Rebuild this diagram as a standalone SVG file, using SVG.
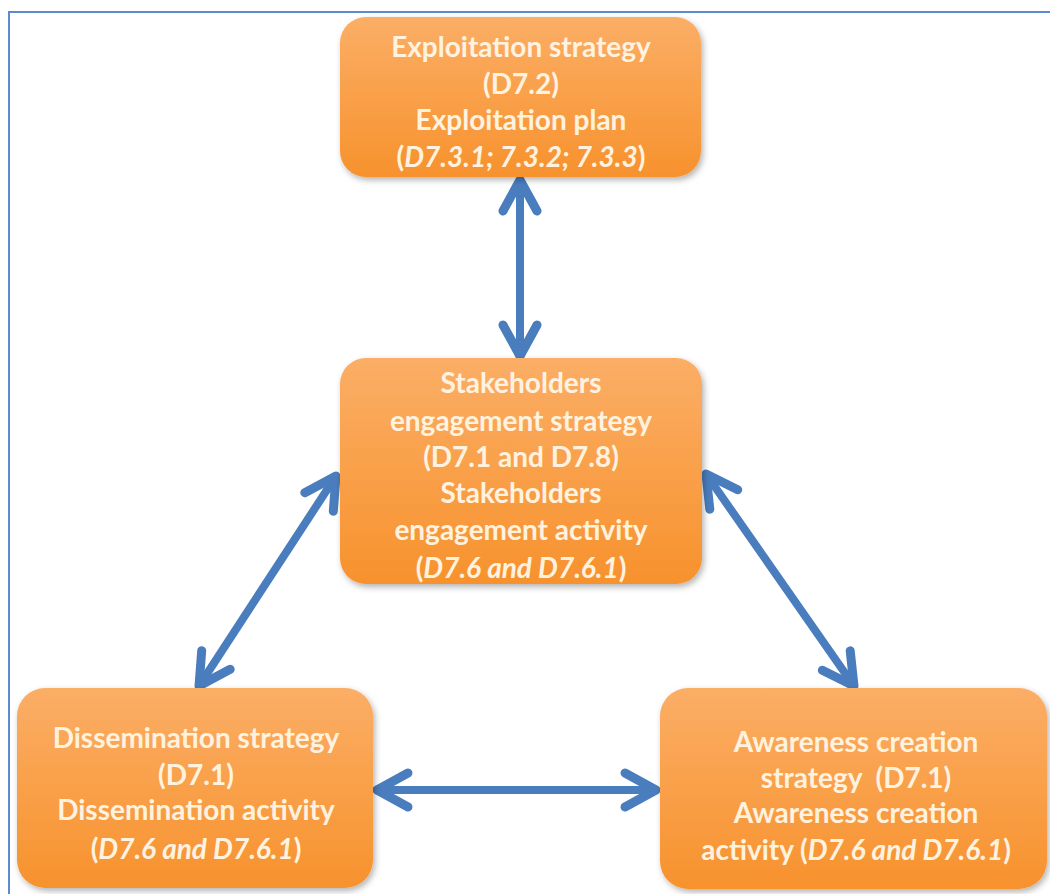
<svg xmlns="http://www.w3.org/2000/svg" width="1050" height="894" viewBox="0 0 1050 894">
<defs>
<linearGradient id="og" x1="0" y1="0" x2="0" y2="1">
<stop offset="0" stop-color="#fbae66"/>
<stop offset="1" stop-color="#f7922d"/>
</linearGradient>
<filter id="sh" x="-10%" y="-10%" width="125%" height="130%">
<feDropShadow dx="2" dy="3" stdDeviation="3" flood-color="#000" flood-opacity="0.3"/>
</filter>
<marker id="ah" markerUnits="userSpaceOnUse" orient="auto-start-reverse" markerWidth="60" markerHeight="60" refX="0" refY="0" viewBox="-40 -30 60 60" overflow="visible">
<path d="M-31,-17 L0,0 L-31,17" fill="none" stroke="#4a7dbd" stroke-width="9" stroke-linecap="round" stroke-linejoin="round"/>
</marker>
</defs>
<style>
.box{fill:url(#og);filter:url(#sh);}
.t{font-family:Lato,"Open Sans","Liberation Sans",sans-serif;font-weight:700;font-size:28px;fill:#fff3e0;text-anchor:middle;}
.it{font-style:italic;}
.conn{fill:none;stroke:#4a7dbd;stroke-width:8;marker-start:url(#ah);marker-end:url(#ah);}
</style>
<rect x="9" y="12" width="1100" height="950" fill="#fff" stroke="#5b8bd0" stroke-width="2"/>
<g id="connectors">
<path class="conn" d="M520,180 L520,356"/>
<path class="conn" d="M199,686 L336,476"/>
<path class="conn" d="M706,474 L854,686"/>
<path class="conn" d="M377,790 L656,790"/>
</g>
<g id="node-exploitation">
<rect class="box" x="340" y="17" width="361" height="160" rx="26"/>
<text class="t" x="521" y="57">Exploitation strategy</text>
<text class="t" x="521" y="94">(D7.2)</text>
<text class="t" x="521" y="130">Exploitation plan</text>
<text class="t" x="521" y="167">(<tspan class="it">D7.3.1; 7.3.2; 7.3.3</tspan>)</text>
</g>
<g id="node-stakeholders">
<rect class="box" x="340" y="358" width="362" height="226" rx="26"/>
<text class="t" x="521" y="393">Stakeholders</text>
<text class="t" x="521" y="431">engagement strategy</text>
<text class="t" x="521" y="467">(D7.1 and D7.8)</text>
<text class="t" x="521" y="503">Stakeholders</text>
<text class="t" x="521" y="540">engagement activity</text>
<text class="t" x="521" y="578">(<tspan class="it">D7.6 and D7.6.1</tspan>)</text>
</g>
<g id="node-dissemination">
<rect class="box" x="17" y="688" width="356" height="200" rx="28"/>
<text class="t" x="196" y="748">Dissemination strategy</text>
<text class="t" x="196" y="785">(D7.1)</text>
<text class="t" x="196" y="820">Dissemination activity</text>
<text class="t" x="196" y="859">(<tspan class="it">D7.6 and D7.6.1</tspan>)</text>
</g>
<g id="node-awareness">
<rect class="box" x="660" y="688" width="387" height="201" rx="28"/>
<text class="t" x="856" y="752">Awareness creation</text>
<text class="t" x="856" y="788" xml:space="preserve">strategy  (D7.1)</text>
<text class="t" x="856" y="823">Awareness creation</text>
<text class="t" x="856" y="860">activity (<tspan class="it">D7.6 and D7.6.1</tspan>)</text>
</g>
</svg>
